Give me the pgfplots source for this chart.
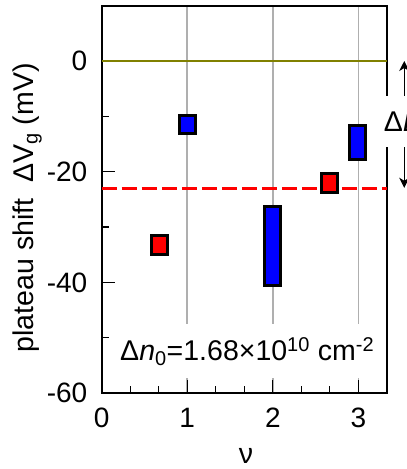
\documentclass[border=0pt]{standalone}
\usepackage{fontspec}
\setmainfont{Liberation Sans}
\usepackage{pgfplots}
\pgfplotsset{compat=1.18}
\usetikzlibrary{arrows.meta}
\definecolor{olivel}{RGB}{128,128,0}
\definecolor{gridg}{RGB}{175,175,175}
\begin{document}
\fontsize{28.5bp}{34bp}\selectfont
\begin{tikzpicture}
\begin{axis}[
  scale only axis, width=285bp, height=387.3bp,
  xmin=0, xmax=3.333, ymin=-60, ymax=10,
  xtick={0,1,2,3}, minor x tick num=2,
  ytick={-60,-40,-20,0}, minor ytick={-50,-30,-10},
  tick align=inside, tick pos=left,
  major tick length=13bp, minor tick length=7bp,
  every tick/.style={black, line width=1.2bp},
  axis line style={line width=1.8bp},
  xmajorgrids, major grid style={gridg, line width=1.6bp},
  /pgf/number format/assume math mode=true,
  every tick label/.append style={font=\fontsize{28bp}{34bp}\selectfont},
  yticklabel style={inner sep=0pt, anchor=east, xshift=-14.2bp},
  xticklabel style={inner sep=0pt, anchor=north, yshift=-15bp},
  xlabel={ν},
  xlabel style={inner sep=0pt, anchor=north, at={(axis description cs:0.506,-0.142)}, font=\fontsize{28.5bp}{34bp}\selectfont},
  ylabel={plateau shift\ \ ΔV\textsubscript{g} (mV)},
  ylabel style={inner sep=0pt, anchor=north, at={(axis description cs:-0.311,0.478)}, font=\fontsize{28.5bp}{34bp}\selectfont},
  clip=false,
]
% reference lines
\addplot[olivel, line width=2.8bp] coordinates {(0,0) (3.333,0)};
\addplot[red, line width=3bp, dash pattern=on 15bp off 5bp] coordinates {(0,-22.95) (3.333,-22.95)};
% red squares
\addplot[draw=black, fill=red, line width=3bp, line join=miter] coordinates {(0.577,-31.6) (0.767,-31.6) (0.767,-34.9) (0.577,-34.9)} -- cycle;
\addplot[draw=black, fill=red, line width=3bp, line join=miter] coordinates {(2.569,-20.4) (2.759,-20.4) (2.759,-23.7) (2.569,-23.7)} -- cycle;
% blue boxes
\addplot[draw=black, fill=blue, line width=3bp, line join=miter] coordinates {(0.905,-9.76) (1.095,-9.76) (1.095,-13.02) (0.905,-13.02)} -- cycle;
\addplot[draw=black, fill=blue, line width=3bp, line join=miter] coordinates {(1.903,-26.37) (2.093,-26.37) (2.093,-40.6) (1.903,-40.6)} -- cycle;
\addplot[draw=black, fill=blue, line width=3bp, line join=miter] coordinates {(2.895,-11.57) (3.085,-11.57) (3.085,-17.77) (2.895,-17.77)} -- cycle;
% annotation box
\node[fill=white, inner xsep=4bp, inner ysep=0pt, minimum height=53.7bp] at (axis cs:1.70,-52.45)
  {Δ\textit{n}\textsubscript{0}=1.68×10\textsuperscript{10} cm\textsuperscript{-2}};
\coordinate (atop) at (axis cs:3.536,0);
\coordinate (abot) at (axis cs:3.536,-22.9);
\coordinate (dpos) at (axis cs:3.283,-10.96);
\coordinate (bl) at (axis cs:-1.189,-73.7);
\coordinate (tr) at (axis cs:3.559,11.02);
\end{axis}
\draw[line width=1bp, {Stealth[length=10bp,width=10bp,inset=3bp]}-{Stealth[length=10bp,width=10bp,inset=3bp]}] (atop) -- (abot);
\node[fill=white, anchor=west, inner xsep=1bp, inner ysep=0pt, minimum height=51bp] at (dpos) {Δ\textit{E}};
\pgfresetboundingbox
\path[use as bounding box] (bl) rectangle (tr);
\end{tikzpicture}
\end{document}
